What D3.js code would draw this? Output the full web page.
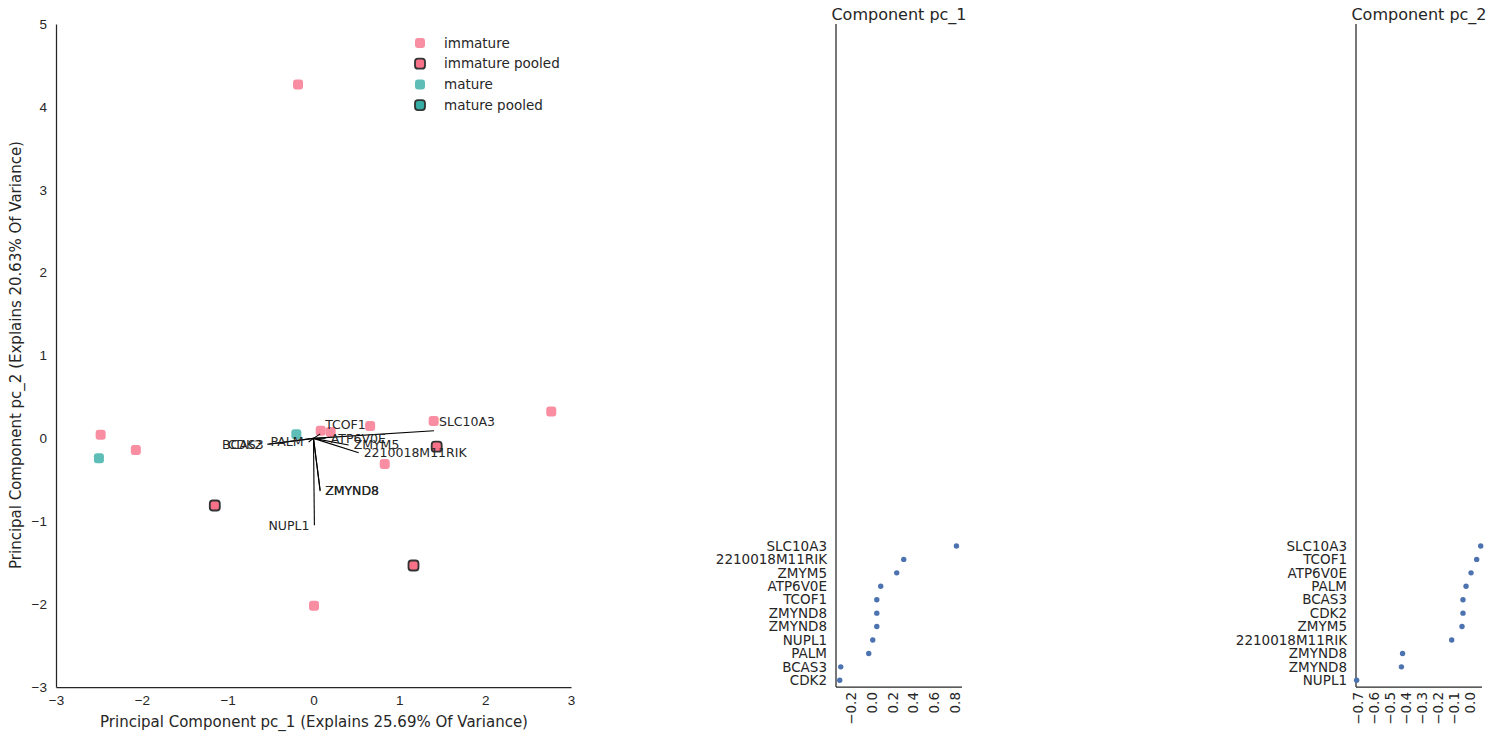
<!DOCTYPE html>
<html><head><meta charset="utf-8">
<script src="https://cdn.jsdelivr.net/npm/d3@7"></script>
<style>
body{margin:0;background:#fff;}
svg{font-family:"DejaVu Sans",sans-serif;}
text{fill:#262626;}
</style></head>
<body><svg id="c" width="1494" height="739"></svg>
<script>
// ---- data ----
const sampleX = [-0.18,-2.48,-2.07,0.084,0.20,0.66,1.40,0.83,2.77,0.006, 1.435,-1.15,1.165, -0.20,-2.50];
const sampleY = [4.27,0.045,-0.14,0.093,0.077,0.15,0.21,-0.31,0.325,-2.02, -0.10,-0.81,-1.534, 0.05,-0.24];
const sampleGroup = ["immature","immature","immature","immature","immature","immature","immature","immature","immature","immature",
  "immature pooled","immature pooled","immature pooled","mature","mature"];
const groups = ["immature","immature pooled","mature","mature pooled"];

const genes = ["SLC10A3","2210018M11RIK","ZMYM5","ATP6V0E","TCOF1","ZMYND8","ZMYND8","NUPL1","PALM","BCAS3","CDK2"];
const loadPC1 = [0.816,0.306,0.238,0.083,0.045,0.045,0.045,0.006,-0.033,-0.304,-0.314];
const loadPC2 = [0.062,-0.118,-0.054,0.002,0.037,-0.423,-0.43,-0.708,-0.029,-0.048,-0.048];
const arrowScaleX = 1.72, arrowScaleY = 1.48;

const xTicks = [-3,-2,-1,0,1,2,3];
const yTicks = [-3,-2,-1,0,1,2,3,4,5];
const pc1Ticks = [-0.2,0.0,0.2,0.4,0.6,0.8];
const pc2Ticks = [-0.7,-0.6,-0.5,-0.4,-0.3,-0.2,-0.1,0.0];

const xLabel = "Principal Component pc_1 (Explains 25.69% Of Variance)";
const yLabel = "Principal Component pc_2 (Explains 20.63% Of Variance)";

// ---- styles ----
const fillOf = {"immature":"#f98da1","immature pooled":"#f77189","mature":"#5ebdb6","mature pooled":"#36ada4"};
const pooled = g => g.indexOf("pooled")>=0;
const svg = d3.select("#c");
const fmt = d => d < 0 ? "\u2212" + Math.abs(d) : String(d);
const fmt1 = d => (d < 0 ? "\u2212" : "") + Math.abs(d).toFixed(1);

// ---- biplot ----
const x = d3.scaleLinear().domain([-3,3]).range([56,571]);
const y = d3.scaleLinear().domain([-3,5]).range([687,24]);
const g = svg.append("g");

function styleAxis(a){
  a.select(".domain").attr("stroke","#262626").attr("stroke-width",1.25);
  a.selectAll(".tick line").remove();
  a.selectAll(".tick text").attr("fill","#262626").style("font-size","13.5px");
}
g.append("g").attr("transform","translate(0,687)")
 .call(d3.axisBottom(x).tickValues(xTicks).tickFormat(fmt).tickSizeOuter(0).tickSize(0).tickPadding(8))
 .call(styleAxis);
g.append("g").attr("transform","translate(56,0)")
 .call(d3.axisLeft(y).tickValues(yTicks).tickFormat(fmt).tickSizeOuter(0).tickSize(0).tickPadding(9))
 .call(styleAxis);

g.append("text").attr("x",314).attr("y",727).attr("text-anchor","middle").style("font-size","15px").text(xLabel);
g.append("text").attr("transform","translate(21,355) rotate(-90)").attr("text-anchor","middle").style("font-size","15px").text(yLabel);

const ms = 10;
g.selectAll("rect.pt").data(sampleX.map((v,i)=>({x:v,y:sampleY[i],g:sampleGroup[i]})))
 .enter().append("rect").attr("class","pt")
 .attr("x",d=>x(d.x)-ms/2).attr("y",d=>y(d.y)-ms/2).attr("width",ms).attr("height",ms)
 .attr("rx",3).attr("fill",d=>fillOf[d.g])
 .attr("stroke",d=>pooled(d.g)?"#333":"none").attr("stroke-width",1.8);

const vec = genes.map((n,i)=>({n, ex:loadPC1[i]*arrowScaleX, ey:loadPC2[i]*arrowScaleY}));
g.selectAll("line.v").data(vec).enter().append("line")
 .attr("x1",x(0)).attr("y1",y(0)).attr("x2",d=>x(d.ex)).attr("y2",d=>y(d.ey))
 .attr("stroke","#000").attr("stroke-width",1.1);
const right = d => d.ex > 0.03;
const lifted = d => d.ey > 0.03;
g.selectAll("text.v").data(vec).enter().append("text")
 .attr("x",d=>x(d.ex)+(right(d)?5:-5)).attr("y",d=>y(d.ey)+(lifted(d)?-5:0))
 .attr("dy",d=>lifted(d)?"0":"0.35em").attr("text-anchor",d=>right(d)?"start":"end")
 .style("font-size","12.5px").text(d=>d.n);

// legend
const leg = g.append("g");
groups.forEach((gr,i)=>{
  const ly = 43 + i*20.7;
  leg.append("rect").attr("x",420-ms/2).attr("y",ly-ms/2).attr("width",ms).attr("height",ms).attr("rx",3)
    .attr("fill",fillOf[gr]).attr("stroke",pooled(gr)?"#333":"none").attr("stroke-width",1.8);
  leg.append("text").attr("x",444).attr("y",ly).attr("dy","0.35em").style("font-size","13.5px").text(gr);
});

// ---- loading panels ----
function panel(x0, x1, dom, ticks, names, vals, title){
  const sx = d3.scaleLinear().domain(dom).range([x0,x1]);
  const sy = d3.scaleLinear().domain([-0.5,48.87]).range([687,24]);
  const p = svg.append("g");
  p.append("line").attr("x1",x0).attr("x2",x0).attr("y1",24).attr("y2",687).attr("stroke","#262626").attr("stroke-width",1.25);
  p.append("line").attr("x1",x0).attr("x2",x1).attr("y1",687).attr("y2",687).attr("stroke","#262626").attr("stroke-width",1.25);
  const n = names.length;
  p.selectAll("text.c").data(names).enter().append("text")
   .attr("x",x0-9).attr("y",(d,i)=>sy(n-1-i)).attr("dy","0.35em").attr("text-anchor","end")
   .style("font-size","13.5px").text(d=>d);
  p.selectAll("circle").data(vals).enter().append("circle")
   .attr("cx",d=>sx(d)).attr("cy",(d,i)=>sy(n-1-i)).attr("r",2.7).attr("fill","#4c72b0");
  p.selectAll("text.t").data(ticks).enter().append("text")
   .attr("transform",d=>`translate(${sx(d)},692) rotate(-90)`).attr("dy","0.35em").attr("text-anchor","end")
   .style("font-size","13.5px").text(fmt1);
  p.append("text").attr("x",(x0+x1)/2).attr("y",20).attr("text-anchor","middle").style("font-size","16px").text(title);
}
panel(836, 962, [-0.35,0.87], pc1Ticks, genes, loadPC1, "Component pc_1");

const order2 = d3.range(genes.length).sort((a,b)=>loadPC2[b]-loadPC2[a]);
panel(1356, 1482, [-0.712,0.07], pc2Ticks, order2.map(i=>genes[i]), order2.map(i=>loadPC2[i]), "Component pc_2");
</script></body></html>
